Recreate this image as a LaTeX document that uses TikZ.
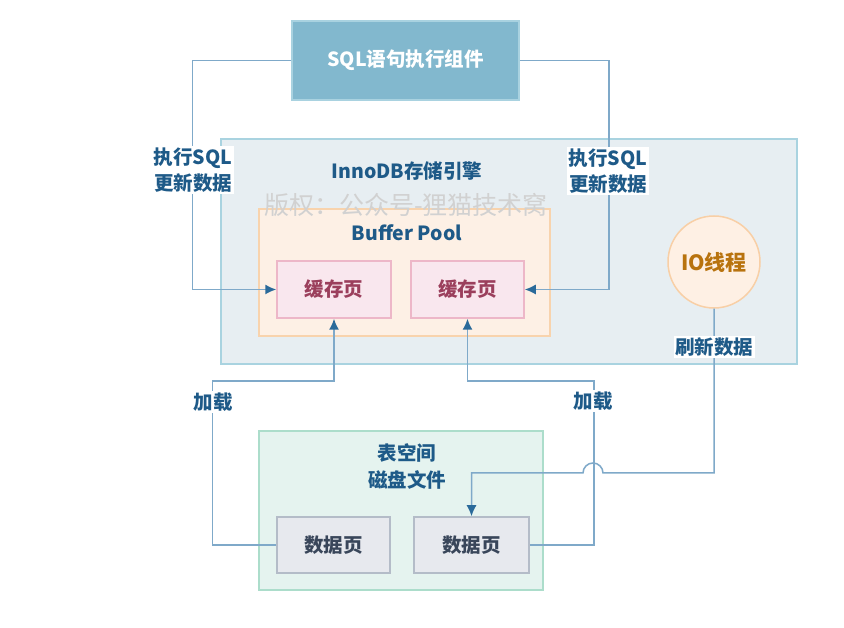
\documentclass[tikz,border=0pt]{standalone}
\usepackage{fontspec}
\setmainfont{Noto Sans CJK SC}
\usetikzlibrary{arrows.meta}
\definecolor{linec}{HTML}{7FA9C9}
\definecolor{arrc}{HTML}{2A6A9A}
\definecolor{lblc}{HTML}{1E5A88}
\definecolor{sqlf}{HTML}{82B8CE}
\definecolor{sqld}{HTML}{A9D2E0}
\definecolor{innf}{HTML}{E7EEF2}
\definecolor{innd}{HTML}{A9D3E0}
\definecolor{bpf}{HTML}{FDF0E5}
\definecolor{bpd}{HTML}{F8D3AD}
\definecolor{cachef}{HTML}{F9E7EE}
\definecolor{cached}{HTML}{EDB7C8}
\definecolor{cachet}{HTML}{9B3F5C}
\definecolor{iof}{HTML}{FEF0E4}
\definecolor{iod}{HTML}{F8CFA6}
\definecolor{iot}{HTML}{B8730E}
\definecolor{tsf}{HTML}{E5F3EF}
\definecolor{tsd}{HTML}{ACDDCB}
\definecolor{dataf}{HTML}{E7E9EE}
\definecolor{datad}{HTML}{B4BCC8}
\definecolor{datat}{HTML}{39465A}
\tikzset{
  box/.style={draw, line width=1.5pt, inner sep=0pt, font=\fontsize{19.5}{23}\selectfont\bfseries},
  conn/.style={draw=linec, line width=1.5pt},
  arr/.style={conn, -{Latex[length=11pt,width=10pt,color=arrc]}},
  lbl/.style={fill=white, text=lblc, inner sep=1.5pt, align=center, font=\fontsize{19.5}{26}\selectfont\bfseries},
  grouptitle/.style={text=lblc, align=center, font=\fontsize{19.5}{27}\selectfont\bfseries},
}
\begin{document}
\begin{tikzpicture}[x=1pt,y=1pt]
\useasboundingbox[fill=white] (0,0) rectangle (844,628);
% containers
\node[box, fill=innf, draw=innd, minimum width=576, minimum height=225] (inno) at (509,376.5) {};
\node[box, fill=bpf, draw=bpd, minimum width=291, minimum height=127] (bp) at (404.5,355.5) {};
\node[box, fill=tsf, draw=tsd, minimum width=284, minimum height=159] (ts) at (401,117.5) {};
% titles
\node[grouptitle] (innot) at (407,457) {InnoDB存储引擎};
\node[grouptitle] (bpt) at (407,395) {Buffer Pool};
\node[grouptitle] (tst) at (407,161.5) {表空间\\磁盘文件};
% boxes
\node[box, fill=sqlf, draw=sqld, text=white, minimum width=227, minimum height=79] (sql) at (405.5,567.5) {SQL语句执行组件};
\node[box, fill=cachef, draw=cached, text=cachet, minimum width=114, minimum height=57] (c1) at (334,338.5) {缓存页};
\node[box, fill=cachef, draw=cached, text=cachet, minimum width=113, minimum height=57] (c2) at (467.5,338.5) {缓存页};
\node[box, circle, fill=iof, draw=iod, text=iot, minimum size=92, font=\fontsize{21}{24}\selectfont\bfseries] (io) at (714,366) {IO线程};
\node[box, fill=dataf, draw=datad, text=datat, minimum width=113, minimum height=56] (d1) at (333.5,83) {数据页};
\node[box, fill=dataf, draw=datad, text=datat, minimum width=115, minimum height=56] (d2) at (471.5,83) {数据页};
% connectors
\draw[arr] (sql.west) -- ++(-99,0) |- (c1.west);
\draw[arr] (sql.east) -- ++(89,0) |- (c2.east);
\draw[arr] (d1.west) -- ++(-64,0) -- ++(0,164) -| (c1.south);
\draw[arr] (d2.east) -- ++(64,0) -- ++(0,164) -| (c2.south);
\coordinate (jmp) at (603,155);
\draw[arr] (io.south) |- (jmp) arc[start angle=0,end angle=180,radius=10] -| (d2.north);
% labels
\node[lbl] (l1) at (193,458) {执行SQL\\更新数据};
\node[lbl] (l2) at (608,457) {执行SQL\\更新数据};
\node[lbl] (l3) at (213,226) {加载};
\node[lbl] (l4) at (593,227) {加载};
\node[lbl] (l5) at (714,281) {刷新数据};
% watermark
\node[text=black!18, font=\fontsize{25}{28}\selectfont] (wm) at (406,423) {版权：公众号-狸猫技术窝};
\end{tikzpicture}
\end{document}
